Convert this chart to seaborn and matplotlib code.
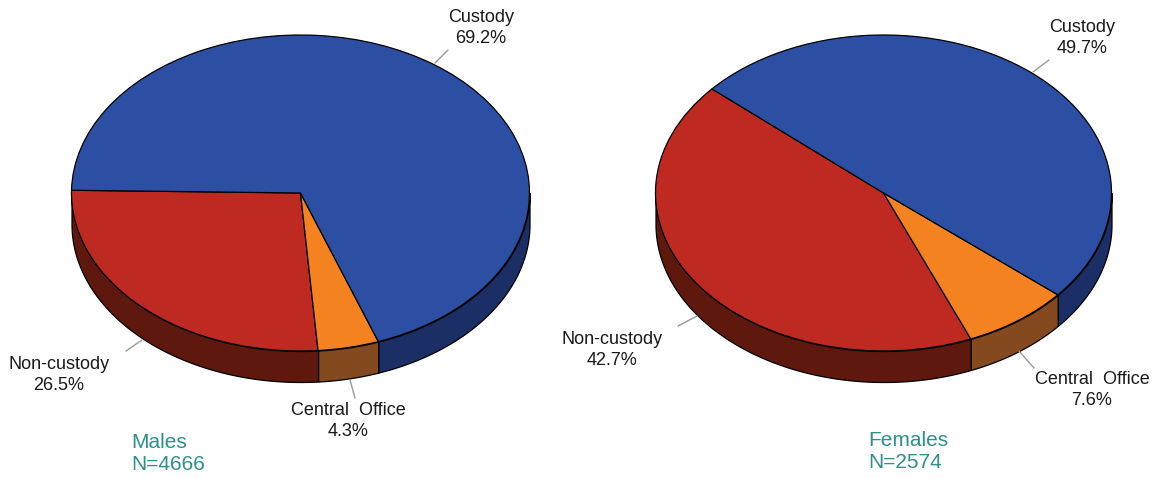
"""
Job category split for males and females, drawn as two tilted pies.
"""

import numpy as np
import matplotlib
matplotlib.use("Agg")
import matplotlib.pyplot as plt
from matplotlib.lines import Line2D
import seaborn as sns

categories = ["Non-custody", "Central  Office", "Custody"]
males_pct = [26.5, 4.3, 69.2]
females_pct = [42.7, 7.6, 49.7]
group_names = ["Males", "Females"]
group_sizes = [4666, 2574]

W, H = 1155, 478
TOP_COLORS = sns.color_palette(["#BE2A22", "#F58220", "#2C4FA3"])
SIDE_COLORS = sns.color_palette(["#5E180E", "#84491F", "#1B2F66"])
TEAL = "#2E8F8F"
DEPTH = 31 / 158

sns.set_theme(style="white")
plt.rcParams["font.family"] = ["Liberation Sans", "DejaVu Sans"]


def fx(x):
    return x / W


def fy(y):
    return 1 - y / H


def draw_pie(fig, values, start, cx, cy, rx, ry):
    # axes sized so the unit pie stretches into the wanted ellipse
    left, right, up, down = 1.02, 1.02, 1.02, 1.02 + DEPTH
    ax = fig.add_axes([
        fx(cx - left * rx), fy(cy + down * ry),
        (left + right) * rx / W, (up + down) * ry / H,
    ])

    edges = start + np.cumsum([0] + values) * 3.6
    for t0, t1, side in zip(edges[:-1], edges[1:], SIDE_COLORS):
        # only the front half of the rim shows
        for shift in (0, -360):
            a, b = max(t0 + shift, 180), min(t1 + shift, 360)
            if a >= b:
                continue
            theta = np.radians(np.linspace(a, b, 120))
            ax.fill_between(
                np.cos(theta), np.sin(theta), np.sin(theta) - DEPTH,
                facecolor=side, edgecolor="black", linewidth=0.9,
            )

    ax.pie(
        values, startangle=start, colors=TOP_COLORS,
        wedgeprops={"edgecolor": "black", "linewidth": 0.9},
    )
    ax.set_aspect("auto")
    ax.set_xlim(-left, right)
    ax.set_ylim(-down, up)
    ax.axis("off")
    return ax


def leader(fig, x0, y0, x1, y1):
    fig.add_artist(Line2D([fx(x0), fx(x1)], [fy(y0), fy(y1)], color="#9A9A9A", linewidth=1))


def label(fig, x, y, name, pct):
    fig.text(
        fx(x), fy(y), f"{name}\n{pct}%", ha="center", va="center",
        fontsize=13, color="#1A1A1A", linespacing=1.27,
    )


def group_label(fig, x, y, name, n):
    fig.text(
        fx(x), fy(y), f"{name}\nN={n}", ha="left", va="center",
        fontsize=15, color=TEAL, linespacing=1.2,
    )


fig = plt.figure(figsize=(W / 100, H / 100), dpi=100, facecolor="white")

draw_pie(fig, males_pct, 179, 300.5, 193, 229, 158)
draw_pie(fig, females_pct, 138.8, 883.5, 193, 228, 158)

# Males
leader(fig, 435, 63, 448, 50)
leader(fig, 142, 340, 126, 351)
leader(fig, 350, 380, 355, 398)
label(fig, 481, 28, categories[2], males_pct[2])
label(fig, 59, 375, categories[0], males_pct[0])
label(fig, 348, 421, categories[1], males_pct[1])
group_label(fig, 131, 453, group_names[0], group_sizes[0])

# Females
leader(fig, 1033, 72, 1049, 60)
leader(fig, 697, 316, 678, 326)
leader(fig, 1019, 351, 1034, 368)
label(fig, 1082, 38, categories[2], females_pct[2])
label(fig, 612, 350, categories[0], females_pct[0])
label(fig, 1092, 390, categories[1], females_pct[1])
group_label(fig, 868, 451, group_names[1], group_sizes[1])

fig.savefig("out.png", dpi=100)
